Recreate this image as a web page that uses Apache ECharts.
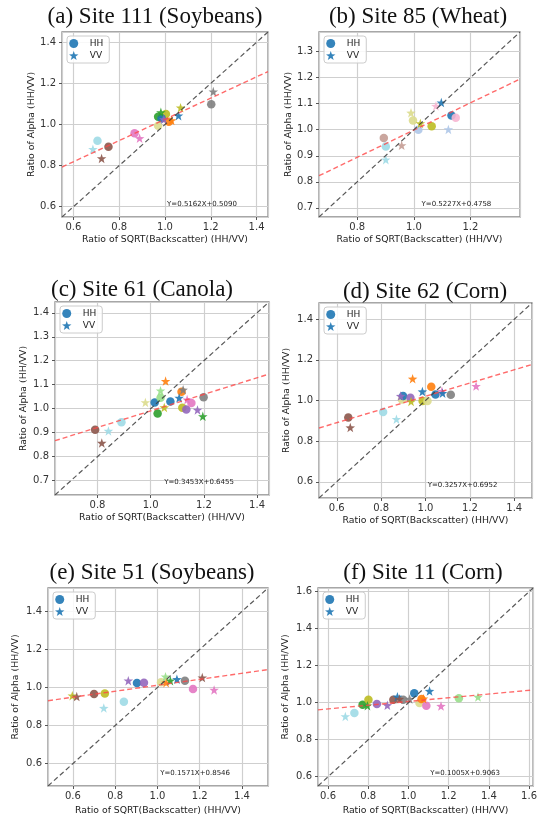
<!DOCTYPE html>
<html>
<head>
<meta charset="utf-8">
<script src="https://cdn.jsdelivr.net/npm/echarts@6/dist/echarts.min.js"></script>
<style>
  html, body { margin: 0; padding: 0; background: #fff; }
  #chart { width: 540px; height: 820px; }
</style>
</head>
<body>
<div id="chart"></div>
<script>
  // each point: [ratio of sqrt(backscatter), ratio of alpha, acquisition index (colour)]
  var site111HH = [[0.705, 0.921, 19], [0.753, 0.892, 10], [0.867, 0.957, 12], [0.970, 0.994, 17],
    [0.970, 1.038, 4], [1.004, 1.051, 16], [0.985, 1.030, 0], [1.017, 1.013, 2], [1.202, 1.098, 14]]
  var site111VV = [[0.685, 0.880, 19], [0.723, 0.835, 10], [0.889, 0.933, 12], [0.982, 1.059, 4],
    [1.059, 1.043, 0], [1.029, 1.020, 2], [1.068, 1.082, 16], [1.211, 1.160, 14], [0.995, 1.025, 8]]

  var site85HH = [[0.894, 0.968, 11], [0.901, 0.936, 19], [0.997, 1.035, 17], [1.016, 1.000, 1],
    [1.063, 1.013, 16], [1.133, 1.055, 0], [1.148, 1.046, 13]]
  var site85VV = [[0.901, 0.885, 19], [0.957, 0.940, 11], [0.990, 1.065, 17], [1.023, 1.024, 16],
    [1.078, 1.091, 13], [1.097, 1.104, 0], [1.122, 1.001, 1]]

  var site61HH = [[0.791, 0.912, 10], [0.890, 0.943, 19], [1.015, 1.026, 0], [1.026, 0.980, 4],
    [1.037, 1.046, 5], [1.074, 1.030, 0], [1.116, 1.071, 2], [1.119, 1.004, 16], [1.134, 0.997, 8],
    [1.153, 1.024, 12], [1.199, 1.048, 14]]
  var site61VV = [[0.816, 0.857, 10], [0.841, 0.907, 19], [0.980, 1.026, 17], [1.037, 1.075, 5],
    [1.051, 1.005, 16], [1.056, 1.115, 2], [1.107, 1.045, 0], [1.122, 1.079, 14], [1.137, 1.038, 12],
    [1.176, 0.995, 8], [1.196, 0.968, 4]]

  var site62HH = [[0.652, 0.916, 10], [0.809, 0.943, 19], [0.894, 1.005, 17], [0.899, 1.022, 0],
    [0.932, 1.013, 8], [0.987, 0.998, 16], [1.009, 0.998, 17], [1.026, 1.068, 2], [1.045, 1.030, 0],
    [1.114, 1.028, 14]]
  var site62VV = [[0.661, 0.867, 10], [0.869, 0.908, 19], [0.888, 1.022, 8], [0.935, 0.995, 16],
    [0.942, 1.107, 2], [0.986, 1.044, 0], [1.074, 1.046, 12], [1.077, 1.036, 0], [1.228, 1.071, 12]]

  var site51HH = [[0.700, 0.966, 10], [0.751, 0.968, 16], [0.841, 0.925, 19], [0.903, 1.024, 0],
    [0.936, 1.025, 8], [1.017, 1.028, 17], [1.130, 1.035, 14], [1.168, 0.992, 12]]
  var site51VV = [[0.597, 0.957, 16], [0.618, 0.952, 10], [0.746, 0.892, 19], [0.862, 1.036, 8],
    [1.038, 1.057, 5], [1.041, 1.025, 2], [1.061, 1.036, 4], [1.092, 1.043, 0], [1.212, 1.052, 10],
    [1.268, 0.987, 12]]

  var site11HH = [[0.731, 0.944, 19], [0.772, 0.989, 4], [0.801, 1.016, 16], [0.843, 0.993, 8],
    [0.925, 1.016, 10], [0.974, 1.016, 14], [1.029, 1.051, 0], [1.055, 0.998, 17], [1.065, 1.020, 2],
    [1.089, 0.984, 12], [1.251, 1.024, 5]]
  var site11VV = [[0.686, 0.926, 19], [0.796, 0.984, 4], [0.895, 0.986, 8], [0.945, 1.032, 0],
    [0.955, 1.020, 10], [1.006, 1.020, 14], [1.075, 1.022, 2], [1.105, 1.063, 0], [1.162, 0.982, 12],
    [1.346, 1.031, 5]]

  var panelTitles = ['(a) Site 111 (Soybeans)', '(b) Site 85 (Wheat)', '(c) Site 61 (Canola)',
    '(d) Site 62 (Corn)', '(e) Site 51 (Soybeans)', '(f) Site 11 (Corn)']
  var hhSets = [site111HH, site85HH, site61HH, site62HH, site51HH, site11HH]
  var vvSets = [site111VV, site85VV, site61VV, site62VV, site51VV, site11VV]
  var fitSlope = [0.5162, 0.5227, 0.3453, 0.3257, 0.1571, 0.1005]
  var fitIntercept = [0.5090, 0.4758, 0.6455, 0.6952, 0.8546, 0.9063]
  var axisRange = [[0.55, 1.45], [0.665, 1.375], [0.64, 1.445], [0.52, 1.48], [0.482, 1.523], [0.55, 1.62]]
  var yStep = [0.2, 0.1, 0.1, 0.2, 0.2, 0.2]

  // layout: grid boxes and title centres
  var grids = [
    {left: 62, top: 32, width: 206, height: 185},
    {left: 319, top: 32, width: 201, height: 185},
    {left: 55, top: 302, width: 214, height: 193},
    {left: 319, top: 303, width: 213, height: 195},
    {left: 48, top: 588, width: 220, height: 198},
    {left: 318, top: 588, width: 220, height: 198}
  ]
  var titlePos = [[155, 5], [418, 5], [142, 278], [425, 280], [152, 561], [423, 561]]
  var yNameGap = [25, 23, 27, 28, 28, 28]
  var xNameGap = [18, 18, 18, 18, 20, 20]

  var palette = ['#1f77b4', '#aec7e8', '#ff7f0e', '#ffbb78', '#2ca02c', '#98df8a', '#d62728', '#ff9896',
    '#9467bd', '#c5b0d5', '#8c564b', '#c49c94', '#e377c2', '#f7b6d2', '#7f7f7f', '#c7c7c7',
    '#bcbd22', '#dbdb8d', '#17becf', '#9edae5']
  var STAR = 'path://M0,-10L2.35,-3.24L9.51,-3.09L3.8,1.24L5.88,8.09L0,4L-5.88,8.09L-3.8,1.24L-9.51,-3.09L-2.35,-3.24Z'
  var sansFont = 'DejaVu Sans'

  function toItems (pts) {
    return pts.map(function (p) {
      return {value: [p[0], p[1]], itemStyle: {color: palette[p[2]]}}
    })
  }

  function makeAxis (i, isX) {
    var r = axisRange[i]
    var step = isX ? 0.2 : yStep[i]
    return {
      type: 'value',
      gridIndex: i,
      min: r[0],
      max: r[1],
      minInterval: step,
      maxInterval: step,
      name: isX ? 'Ratio of SQRT(Backscatter) (HH/VV)' : 'Ratio of Alpha (HH/VV)',
      nameLocation: 'middle',
      nameGap: isX ? xNameGap[i] : yNameGap[i],
      nameTextStyle: {fontFamily: sansFont, fontSize: 9.3, color: '#222'},
      axisLine: {show: false},
      axisTick: {show: true, length: 3, lineStyle: {color: '#555'}},
      axisLabel: {
        showMinLabel: false,
        showMaxLabel: false,
        margin: isX ? 5 : 6,
        fontFamily: sansFont,
        fontSize: 10,
        color: '#333',
        formatter: function (v) { return v.toFixed(1) }
      },
      splitLine: {show: true, lineStyle: {color: '#cfcfcf', width: 1.2}}
    }
  }

  var option = {
    animation: false,
    backgroundColor: '#fff',
    title: [],
    legend: [],
    grid: [],
    xAxis: [],
    yAxis: [],
    series: [],
    graphic: []
  }

  for (var i = 0; i < 6; i++) {
    var g = grids[i]
    var r = axisRange[i]
    option.grid.push({
      left: g.left, top: g.top, width: g.width, height: g.height,
      show: true, borderColor: '#8a8a8a', borderWidth: 1.3, backgroundColor: '#fff'
    })
    option.xAxis.push(makeAxis(i, true))
    option.yAxis.push(makeAxis(i, false))
    option.title.push({
      text: panelTitles[i],
      left: titlePos[i][0],
      top: titlePos[i][1],
      textAlign: 'center',
      padding: 0,
      textStyle: {fontFamily: 'Liberation Serif', fontSize: 23, fontWeight: 'normal', color: '#111'}
    })
    option.legend.push({
      left: g.left + 5,
      top: g.top + 4,
      orient: 'vertical',
      selectedMode: false,
      padding: [3, 6, 3, 2],
      itemGap: 3,
      itemWidth: 22,
      itemHeight: 9,
      borderColor: '#cccccc',
      borderWidth: 1,
      borderRadius: 3,
      backgroundColor: 'rgba(255,255,255,0.85)',
      textStyle: {fontFamily: sansFont, fontSize: 9, color: '#222'},
      data: [
        {name: 'HH', icon: 'circle', itemStyle: {color: '#1f77b4'}},
        {name: 'VV', icon: STAR, itemStyle: {color: '#1f77b4'}}
      ]
    })
    option.series.push({
      name: 'HH', type: 'scatter', xAxisIndex: i, yAxisIndex: i,
      symbol: 'circle', symbolSize: 8.5,
      itemStyle: {color: '#1f77b4', opacity: 0.9},
      data: toItems(hhSets[i])
    })
    option.series.push({
      name: 'VV', type: 'scatter', xAxisIndex: i, yAxisIndex: i,
      symbol: STAR, symbolSize: 9.5,
      itemStyle: {color: '#1f77b4', opacity: 0.9},
      data: toItems(vvSets[i])
    })
    // fitted regression line
    option.series.push({
      name: 'fit', type: 'line', xAxisIndex: i, yAxisIndex: i, z: 3,
      symbol: 'none', silent: true,
      lineStyle: {color: 'rgba(255,70,70,0.8)', width: 1.4, type: [5, 3]},
      data: [[r[0], fitSlope[i] * r[0] + fitIntercept[i]], [r[1], fitSlope[i] * r[1] + fitIntercept[i]]]
    })
    // 1:1 line
    option.series.push({
      name: '1:1', type: 'line', xAxisIndex: i, yAxisIndex: i, z: 3,
      symbol: 'none', silent: true,
      lineStyle: {color: 'rgba(60,60,60,0.85)', width: 1.2, type: [5, 3]},
      data: [[r[0], r[0]], [r[1], r[1]]]
    })
    option.graphic.push({
      type: 'text',
      x: g.left + g.width * 0.51,
      y: g.top + g.height - 13,
      z: 10,
      style: {
        text: 'Y=' + fitSlope[i].toFixed(4) + 'X+' + fitIntercept[i].toFixed(4),
        fontFamily: sansFont, fontSize: 7, fill: '#222', verticalAlign: 'middle'
      }
    })
  }

  var chart = echarts.init(document.getElementById('chart'))
  chart.setOption(option)
</script>
</body>
</html>
